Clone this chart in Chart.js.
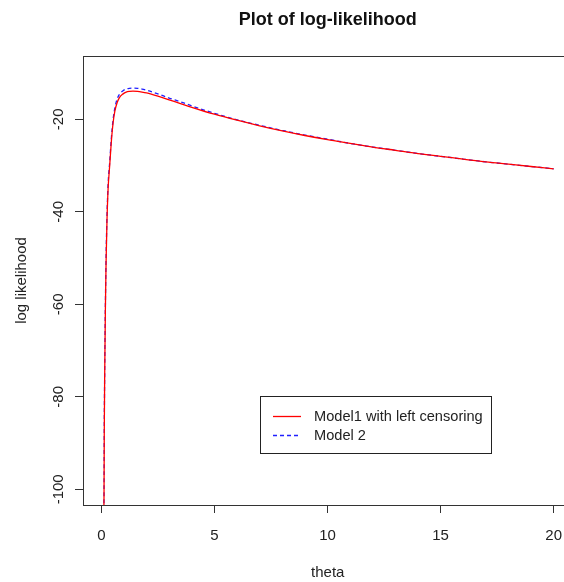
<!DOCTYPE html>
<html>
<head>
<meta charset="utf-8">
<script src="https://cdn.jsdelivr.net/npm/chart.js@4/dist/chart.umd.min.js"></script>
<style>
    html, body { margin: 0; padding: 0; background: #fff; overflow: hidden; }
    #wrap { width: 576px; height: 582px; }
</style>
</head>
<body>
<div id="wrap"><canvas id="llChart" width="576" height="582"></canvas></div>
<script>
var theta = [0.11, 0.12, 0.13, 0.15, 0.18, 0.21, 0.25, 0.3, 0.37, 0.44,
    0.52, 0.6, 0.7, 0.8, 0.96, 1.1, 1.25, 1.4, 1.6, 1.8,
    2.0, 2.5, 3, 3.5, 4, 5, 6, 7, 8, 9,
    10, 11, 12, 13, 14, 15, 16, 17, 18, 19, 20];
var model1 = [-106, -101, -88, -75, -61, -51, -42, -35, -30, -25,
    -20.8, -18.2, -16.4, -15.3, -14.5, -14.1, -13.95, -13.9, -13.95, -14.1,
    -14.3, -15.0, -15.8, -16.6, -17.4, -18.9, -20.2, -21.4, -22.5, -23.5,
    -24.4, -25.2, -26.0, -26.7, -27.4, -28.0, -28.6, -29.2, -29.7, -30.2, -30.7];
var model2 = [-106, -100, -87, -74, -60, -50, -41, -34, -29.3, -24.3,
    -20.1, -17.5, -15.6, -14.6, -13.8, -13.45, -13.3, -13.25, -13.3, -13.45,
    -13.7, -14.5, -15.4, -16.2, -17.1, -18.7, -20.1, -21.3, -22.4, -23.4,
    -24.3, -25.2, -26.0, -26.7, -27.4, -28.0, -28.6, -29.2, -29.7, -30.2, -30.7];
var seriesNames = ['Model1 with left censoring', 'Model 2'];
var xTicks = [0, 5, 10, 15, 20];
var yTicks = [-100, -80, -60, -40, -20];

var FONT = "'Liberation Sans', Arial, sans-serif";
var INK = '#333333';

function toPoints(xs, ys) {
    var pts = [];
    for (var i = 0; i < xs.length; i++) {
        pts.push({x: xs[i], y: ys[i]});
    }
    return pts;
}

// R style frame, main title and legend box
var rDecor = {
    id: 'rDecor',
    afterDraw: function (chart) {
        var ctx = chart.ctx;
        var a = chart.chartArea;
        ctx.save();
        ctx.strokeStyle = INK;
        ctx.lineWidth = 1;
        ctx.strokeRect(a.left + 0.5, a.top + 0.5, a.right - a.left, a.bottom - a.top);

        ctx.fillStyle = '#111';
        ctx.font = 'bold 18px ' + FONT;
        ctx.textAlign = 'center';
        ctx.textBaseline = 'middle';
        ctx.fillText('Plot of log-likelihood', (a.left + a.right) / 2, 20);

        // legend
        var bx = 260, by = 396, bw = 231, bh = 57;
        ctx.fillStyle = '#fff';
        ctx.fillRect(bx, by, bw, bh);
        ctx.strokeStyle = '#222';
        ctx.strokeRect(bx + 0.5, by + 0.5, bw, bh);
        ctx.font = '14.6px ' + FONT;
        ctx.textAlign = 'left';
        var rows = [416.5, 435.5];
        chart.data.datasets.forEach(function (ds, i) {
            ctx.strokeStyle = ds.borderColor;
            ctx.lineWidth = ds.borderWidth;
            ctx.setLineDash(ds.borderDash || []);
            ctx.beginPath();
            ctx.moveTo(273, rows[i]);
            ctx.lineTo(301, rows[i]);
            ctx.stroke();
            ctx.setLineDash([]);
            ctx.fillStyle = '#222';
            ctx.fillText(ds.label, 314, rows[i]);
        });
        ctx.restore();
    }
};

new Chart(document.getElementById('llChart'), {
    type: 'scatter',
    data: {
        datasets: [
            {
                label: seriesNames[0],
                data: toPoints(theta, model1),
                showLine: true,
                borderColor: '#ff0000',
                borderWidth: 1.3,
                pointRadius: 0,
                cubicInterpolationMode: 'monotone'
            },
            {
                label: seriesNames[1],
                data: toPoints(theta, model2),
                showLine: true,
                borderColor: '#2020ff',
                borderWidth: 1.3,
                borderDash: [4, 3],
                pointRadius: 0,
                cubicInterpolationMode: 'monotone'
            }
        ]
    },
    options: {
        responsive: false,
        animation: false,
        layout: {padding: {top: 56, left: 0, right: 0, bottom: 0}},
        plugins: {
            legend: {display: false},
            tooltip: {enabled: false}
        },
        scales: {
            x: {
                type: 'linear',
                min: -0.81,
                max: 20.83,
                afterBuildTicks: function (scale) {
                    scale.ticks = xTicks.map(function (v) { return {value: v}; });
                },
                afterFit: function (scale) { scale.height = 77; },
                grid: {drawOnChartArea: false, drawTicks: true, tickLength: 8, color: INK},
                border: {display: false},
                ticks: {color: '#222', font: {family: FONT, size: 15}, padding: 14, maxRotation: 0},
                title: {display: true, text: 'theta', color: '#222', font: {family: FONT, size: 15}, padding: {top: 0, bottom: 0}}
            },
            y: {
                type: 'linear',
                min: -103.39,
                max: -6.31,
                afterBuildTicks: function (scale) {
                    scale.ticks = yTicks.map(function (v) { return {value: v}; });
                },
                afterFit: function (scale) { scale.width = 83; },
                grid: {drawOnChartArea: false, drawTicks: true, tickLength: 8, color: INK},
                border: {display: false},
                ticks: {color: '#222', font: {family: FONT, size: 15}, padding: 1, minRotation: 90, maxRotation: 90, crossAlign: 'center'},
                title: {display: true, text: 'log likelihood', color: '#222', font: {family: FONT, size: 15}, padding: {top: 13, bottom: 0}}
            }
        }
    },
    plugins: [rDecor]
});
</script>
</body>
</html>
